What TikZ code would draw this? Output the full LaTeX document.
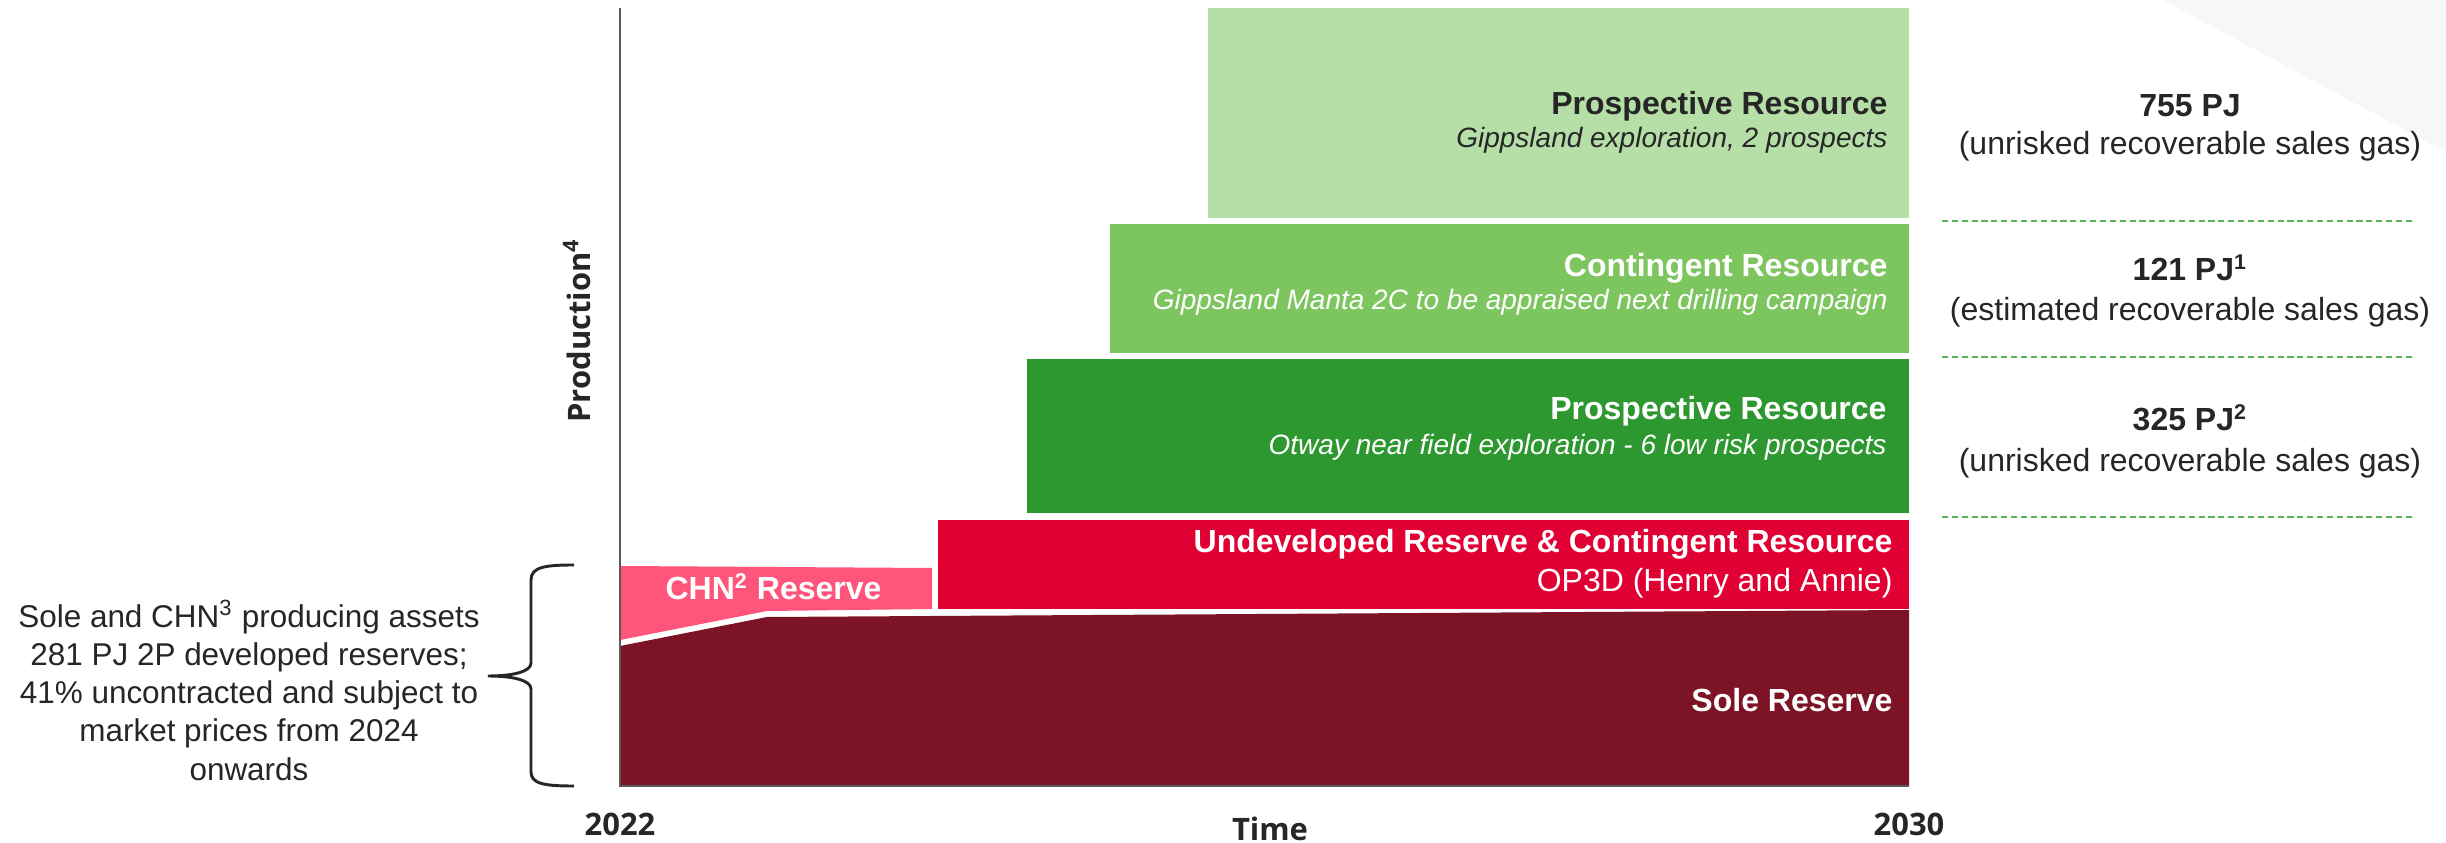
\documentclass[tikz,border=0pt]{standalone}
\usepackage{fontspec}
\setmainfont{Liberation Sans}
\newfontfamily\osans{Open Sans}
\definecolor{lgreen}{HTML}{B5DFA7}
\definecolor{mgreen}{HTML}{7DC55F}
\definecolor{dgreen}{HTML}{2E9830}
\definecolor{ured}{HTML}{E00034}
\definecolor{chnpink}{HTML}{FF557A}
\definecolor{solered}{HTML}{7D1426}
\definecolor{txt}{HTML}{262626}
\definecolor{dashgreen}{HTML}{58B058}
\definecolor{axisgrey}{HTML}{595959}
\definecolor{cornergrey}{HTML}{F7F7F7}
\begin{document}
\begin{tikzpicture}[x=0.375pt,y=-0.375pt,
  title/.style={inner sep=0pt, font=\fontsize{12}{14}\selectfont\bfseries},
  subit/.style={inner sep=0pt, font=\fontsize{10.5}{12}\selectfont\itshape},
  plain/.style={inner sep=0pt, font=\fontsize{12}{14}\selectfont},
  axislbl/.style={inner sep=0pt, text=txt, font=\fontsize{11.6}{14}\selectfont\osans\bfseries},
  sepline/.style={draw=dashgreen, line width=0.6pt, dash pattern=on 2.3pt off 1.4pt},
  band/.style={draw=none}]
\useasboundingbox (0,0) rectangle (2446,843);
% corner decoration
\fill[cornergrey] (2163,0) -- (2446,0) -- (2446,152) -- cycle;

% coordinates
\coordinate (orig) at (620,786);
\coordinate (axtop) at (620,8);
\coordinate (axend) at (1909,786);

% bands
\fill[lgreen] (1208,8) rectangle (1909,218);
\fill[mgreen] (1110,224) rectangle (1909,353);
\fill[dgreen] (1027,359) rectangle (1909,513);
\fill[ured] (938,520) rectangle (1909,609);
\fill[chnpink] (620,566) -- (932,568) -- (932,609) -- (767,611) -- (620,640) -- cycle;
\fill[solered] (620,646) -- (767,617) -- (1909,610) -- (1909,786) -- (620,786) -- cycle;

% axes
\draw[axisgrey, line width=0.75pt] (axtop) -- (orig) -- (axend);

% band labels
\node[title, text=txt, anchor=base east] (pr1t) at (1888,115) {Prospective Resource};
\node[subit, text=txt, anchor=base east] (pr1s) at (1888,148) {Gippsland exploration, 2 prospects};
\node[title, text=white, anchor=base east] (crt) at (1888,277) {Contingent Resource};
\node[subit, text=white, anchor=base east] (crs) at (1888,310) {Gippsland Manta 2C to be appraised next drilling campaign};
\node[title, text=white, anchor=base east] (pr2t) at (1887,420) {Prospective Resource};
\node[subit, text=white, anchor=base east] (pr2s) at (1887,455) {Otway near field exploration - 6 low risk prospects};
\node[title, text=white, anchor=base east] (urt) at (1893,553) {Undeveloped Reserve \& Contingent Resource};
\node[plain, text=white, anchor=base east] (urs) at (1893,592) {OP3D (Henry and Annie)};
\node[title, text=white, anchor=base west] (chn) at (665,600) {CHN\textsuperscript{2} Reserve};
\node[title, text=white, anchor=base east] (sole) at (1893,711) {Sole Reserve};

% axis labels
\node[axislbl, rotate=90, anchor=base west] (prod) at (590,423) {Production\textsuperscript{4}};
\node[axislbl, anchor=base] (y22) at (620,835) {2022};
\node[axislbl, anchor=base] (time) at (1270,840) {Time};
\node[axislbl, anchor=base] (y30) at (1909,835) {2030};

% right-hand volumes
\node[title, text=txt, anchor=base] (v1) at (2190,117) {755 PJ};
\node[plain, text=txt, anchor=base] (v1s) at (2190,155) {(unrisked recoverable sales gas)};
\node[title, text=txt, anchor=base] (v2) at (2190,281) {121 PJ\textsuperscript{1}};
\node[plain, text=txt, anchor=base] (v2s) at (2190,321) {(estimated recoverable sales gas)};
\node[title, text=txt, anchor=base] (v3) at (2190,431) {325 PJ\textsuperscript{2}};
\node[plain, text=txt, anchor=base] (v3s) at (2190,472) {(unrisked recoverable sales gas)};
\coordinate (d1a) at (1942,221); \coordinate (d1b) at (2414,221);
\coordinate (d2a) at (1942,357); \coordinate (d2b) at (2414,357);
\coordinate (d3a) at (1942,517); \coordinate (d3b) at (2414,517);
\draw[sepline] (d1a) -- (d1b);
\draw[sepline] (d2a) -- (d2b);
\draw[sepline] (d3a) -- (d3b);

% left note and brace
\node[inner sep=0pt, text=txt, align=center, anchor=north,
      font=\fontsize{11.8}{14.3}\selectfont] (note) at (249,600)
  {Sole and CHN\textsuperscript{3} producing assets\\281 PJ 2P developed reserves;\\41\% uncontracted and subject to\\market prices from 2024\\onwards};
\coordinate (btop) at (574,565);
\coordinate (bbot) at (574,786);
\coordinate (btip) at (488,676);
\draw[txt, line width=1.1pt]
  (btop) .. controls (545,565) and (531,567) .. (531,580) -- (531,663)
  .. controls (531,672) and (512,676) .. (btip)
  .. controls (512,676) and (531,680) .. (531,689) -- (531,772)
  .. controls (531,784) and (545,786) .. (bbot);
\end{tikzpicture}
\end{document}
